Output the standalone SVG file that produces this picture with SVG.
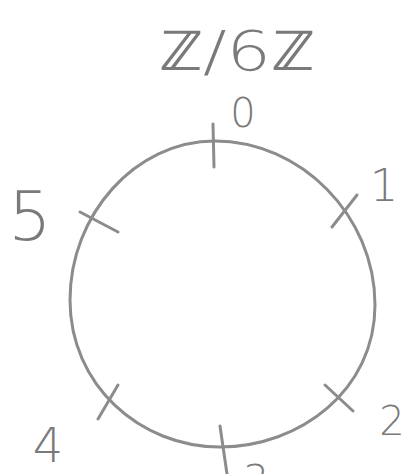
<svg xmlns="http://www.w3.org/2000/svg" width="407" height="474" viewBox="0 0 407 474">
<style>
.s{fill:none;stroke:#8c8c8c;stroke-width:3;stroke-linecap:round;stroke-linejoin:round}
.t{font-family:"DejaVu Sans","Liberation Sans",sans-serif;font-weight:200;fill:#7a7a7a;text-anchor:middle}
</style>
<rect width="407" height="474" fill="#fff"/>
<text id="title" class="t" x="237" y="70" font-size="55" textLength="157" lengthAdjust="spacingAndGlyphs">ℤ/6ℤ</text>
<g id="connectors">
<path id="circle" class="s" d="M215,141 C300,141 375,215 375,305 C375,390 300,447 220,447 C140,447 70,385 70,300 C70,215 135,141 215,141 Z"/>
</g>
<g id="n0"><path class="s" d="M213,124 L214,167"/><text class="t" x="243" y="127" font-size="40">0</text></g>
<g id="n1"><path class="s" d="M332,227 L357,195"/><text class="t" x="384" y="201" font-size="45">1</text></g>
<g id="n2"><path class="s" d="M325,385 L353,411"/><text class="t" x="392" y="435" font-size="40">2</text></g>
<g id="n3"><path class="s" d="M220,426 L227,474"/><text class="t" x="256" y="494" font-size="40">3</text></g>
<g id="n4"><path class="s" d="M98,419 L118,385"/><text class="t" x="48" y="462" font-size="48">4</text></g>
<g id="n5"><path class="s" d="M80,212 L118,232"/><text class="t" x="30" y="240" font-size="68">5</text></g>
</svg>
